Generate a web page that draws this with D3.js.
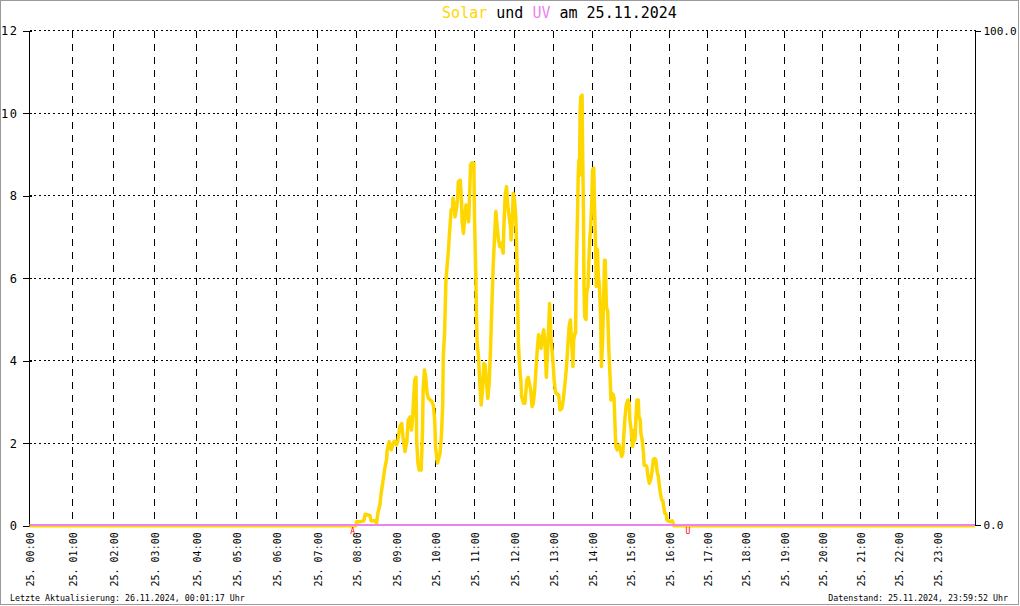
<!DOCTYPE html>
<html><head><meta charset="utf-8">
<script src="https://cdn.jsdelivr.net/npm/d3@7/dist/d3.min.js"></script>
<style>
body{margin:0;background:#fff}
svg{display:block}
text{font-family:"DejaVu Sans Mono",monospace;white-space:pre}
</style>
</head><body>
<svg id="c" width="1020" height="606"></svg>
<script>
// ---------- data ----------
const chartTitle = ["Solar", " und ", "UV", " am 25.11.2024"];
const footerLeft = "Letzte Aktualisierung: 26.11.2024, 00:01:17 Uhr";
const footerRight = "Datenstand: 25.11.2024, 23:59:52 Uhr";
const xTickHours = d3.range(0, 24);
const xTickLabels = ["25. 00:00","25. 01:00","25. 02:00","25. 03:00","25. 04:00","25. 05:00","25. 06:00","25. 07:00","25. 08:00","25. 09:00","25. 10:00","25. 11:00","25. 12:00","25. 13:00","25. 14:00","25. 15:00","25. 16:00","25. 17:00","25. 18:00","25. 19:00","25. 20:00","25. 21:00","25. 22:00","25. 23:00"];
const yLeftTicks = [0, 2, 4, 6, 8, 10, 12];
const yRightTicks = [0, 100];
const yRightLabels = ["0.0", "100.0"];
const markerLabels = ["A", "U"];
const markerTimes = ["7:54", "16:29"];

const solarTimes = ["0:00","7:59","8:00","8:05","8:11","8:13","8:20","8:22","8:29","8:30","8:32","8:35","8:37","8:40","8:42","8:45","8:46","8:49","8:52","8:55","8:57","9:00","9:02","9:05","9:08","9:10","9:13","9:16","9:18","9:21","9:23","9:25","9:26","9:28","9:30","9:31","9:33","9:35","9:38","9:40","9:41","9:43","9:45","9:47","9:49","9:52","9:55","9:57","9:59","10:00","10:03","10:05","10:07","10:09","10:11","10:12","10:14","10:16","10:18","10:20","10:21","10:23","10:24","10:26","10:27","10:29","10:30","10:32","10:34","10:35","10:38","10:40","10:41","10:43","10:45","10:47","10:49","10:51","10:52","10:54","10:56","10:59","11:00","11:02","11:03","11:04","11:06","11:08","11:10","11:12","11:14","11:16","11:18","11:20","11:22","11:24","11:26","11:28","11:30","11:32","11:34","11:36","11:38","11:40","11:43","11:44","11:46","11:48","11:50","11:52","11:54","11:55","11:57","11:58","12:00","12:02","12:04","12:06","12:08","12:10","12:11","12:14","12:16","12:19","12:21","12:23","12:25","12:27","12:29","12:31","12:33","12:35","12:37","12:39","12:41","12:43","12:45","12:47","12:49","12:51","12:52","12:54","12:56","12:59","13:01","13:03","13:05","13:08","13:10","13:13","13:15","13:18","13:20","13:22","13:24","13:26","13:28","13:30","13:31","13:33","13:34","13:35","13:37","13:38","13:39","13:40","13:41","13:42","13:44","13:45","13:46","13:47","13:48","13:50","13:51","13:53","13:54","13:56","13:57","13:59","14:00","14:02","14:03","14:05","14:06","14:08","14:09","14:11","14:13","14:14","14:16","14:17","14:19","14:20","14:22","14:24","14:25","14:26","14:28","14:29","14:32","14:34","14:36","14:37","14:39","14:42","14:44","14:46","14:48","14:49","14:51","14:53","14:54","14:56","14:58","14:59","15:01","15:03","15:04","15:06","15:07","15:09","15:10","15:12","15:13","15:15","15:16","15:18","15:20","15:21","15:23","15:25","15:27","15:29","15:30","15:32","15:34","15:35","15:37","15:39","15:41","15:43","15:44","15:46","15:48","15:50","15:51","15:53","15:55","15:56","15:59","16:01","16:04","16:06","16:07","23:59"];
const solarValues = [0,0,0.1,0.1,0.12,0.28,0.25,0.12,0.12,0.06,0.3,0.5,0.79,1.11,1.35,1.6,1.83,2.04,1.84,2.0,2.05,1.96,2.05,2.4,2.48,2.16,1.8,2.05,2.56,2.64,2.32,2.64,2.97,3.53,3.6,2.08,1.52,1.35,1.35,2.3,3.29,3.78,3.6,3.21,3.1,3.05,3.0,2.9,2.48,1.92,1.52,1.64,1.76,2.16,2.89,4.1,4.7,5.92,6.32,6.69,6.97,7.41,7.66,7.66,7.94,7.8,7.49,7.66,7.9,8.34,8.38,7.9,7.37,7.09,7.49,7.78,7.5,7.37,7.8,8.75,8.8,8.79,7.49,6.04,5.07,4.42,4.1,3.45,2.93,3.29,3.94,3.9,3.45,3.09,3.45,4.26,5.31,6.28,6.97,7.62,7.25,6.93,6.77,6.85,6.61,7.2,8.02,8.22,7.74,7.5,7.25,6.93,7.49,8.06,7.9,7.49,6.28,4.42,3.86,3.45,3.13,2.97,2.97,3.53,3.6,3.45,3.29,2.89,2.97,3.29,3.78,4.26,4.63,4.55,4.3,4.6,4.75,4.42,3.6,4.26,4.63,5.39,4.6,4.02,3.53,3.25,3.2,3.17,2.81,2.85,3.05,3.5,3.86,4.34,4.83,4.99,4.42,3.86,4.5,4.67,4.67,6.16,7.58,8.46,8.87,8.5,10.08,10.4,10.44,8.87,7.74,5.72,5.07,5.0,5.64,5.8,6.28,7.01,7.17,7.9,8.63,8.67,7.9,6.69,5.8,6.69,6.12,5.8,4.99,3.86,4.5,5.15,6.44,6.44,5.31,5.2,4.67,4.18,3.53,3.05,3.2,3.1,2.24,1.92,1.84,1.95,1.84,1.68,1.76,2.08,2.56,2.89,2.97,3.05,2.97,2.56,2.32,1.92,2.0,2.32,2.08,2.81,3.05,3.05,2.65,2.56,2.24,2.08,1.76,1.47,1.47,1.44,1.19,1.03,1.08,1.19,1.43,1.6,1.63,1.6,1.31,1.19,1.03,0.79,0.63,0.6,0.46,0.3,0.28,0.14,0.11,0.1,0.12,0.06,0,0];

const uvTimes = ["0:00", "23:59"];
const uvValues = [0, 0];

// ---------- layout ----------
const W = 1020, H = 606;
const gridColumns = [29.5,72.5,113.5,154.5,196.5,236.5,276.5,317.5,356.5,396.5,435.5,474.5,514.5,553.5,592.5,630.5,669.5,707.5,745.5,784.5,822.5,860.5,898.5,937.5,975.5];
const plotTop = 30.8, plotBottom = 525.8, plotLeft = 29.5, plotRight = 975.5;

const parseT = s => { const [h, m] = s.split(":").map(Number); return h + m / 60; };
const x = d3.scaleLinear().domain(d3.range(0, 25)).range(gridColumns);
const y = d3.scaleLinear().domain([0, 12]).range([plotBottom, plotTop]);
const yUV = d3.scaleLinear().domain([0, 100]).range([plotBottom - 1, plotTop]);

const svg = d3.select("#c");
svg.append("rect").attr("width", W).attr("height", H).attr("fill", "#fff");
svg.append("rect").attr("x", 0.5).attr("y", 0.5).attr("width", 1018).attr("height", 604)
  .attr("fill", "none").attr("stroke", "#9a9a9a");

// title
const t = svg.append("text").attr("x", 559.5).attr("y", 18).attr("text-anchor", "middle")
  .attr("font-size", 15);
const titleColors = ["#FFD700", "#000", "#EE82EE", "#000"];
chartTitle.forEach((s, i) => t.append("tspan").attr("fill", titleColors[i]).text(s));

// horizontal dotted grid
const hGrid = svg.append("g").attr("shape-rendering", "crispEdges");
hGrid.selectAll("line").data(yLeftTicks.filter(v => v > 0)).join("line")
  .attr("x1", plotLeft).attr("x2", plotRight)
  .attr("y1", d => Math.floor(y(d)) + 0.5).attr("y2", d => Math.floor(y(d)) + 0.5)
  .attr("stroke", "#000").attr("stroke-dasharray", "2,2.7");

// vertical dashed grid
const vGrid = svg.append("g").attr("shape-rendering", "crispEdges");
vGrid.selectAll("line").data(xTickHours.filter(h => h > 0)).join("line")
  .attr("x1", d => x(d)).attr("x2", d => x(d))
  .attr("y1", plotTop).attr("y2", plotBottom)
  .attr("stroke", "#000").attr("stroke-dasharray", "7,6");

// left axis
const yAxisL = d3.axisLeft(y).tickValues(yLeftTicks).tickFormat(d3.format("2d")).tickSize(7).tickPadding(3);
const gL = svg.append("g").attr("transform", "translate(" + plotLeft + ",0)").call(yAxisL);
gL.select(".domain").remove();
gL.selectAll(".tick line").attr("x2", -7).attr("x1", 2).attr("shape-rendering", "crispEdges");
gL.selectAll(".tick text").attr("font-family", "DejaVu Sans Mono").attr("font-size", 12)
  .attr("letter-spacing", 1.5).attr("text-anchor", "start").attr("x", -28.5).attr("fill", "#000");
svg.append("line").attr("x1", plotLeft).attr("x2", plotLeft).attr("y1", plotTop).attr("y2", plotBottom)
  .attr("stroke", "#000").attr("shape-rendering", "crispEdges");

// right axis
const yAxisR = d3.axisRight(yUV).tickValues(yRightTicks).tickFormat((d, i) => yRightLabels[i]).tickSize(5).tickPadding(3);
const gR = svg.append("g").attr("transform", "translate(" + plotRight + ",0)").call(yAxisR);
gR.select(".domain").remove();
gR.selectAll(".tick line").attr("shape-rendering", "crispEdges");
gR.selectAll(".tick text").attr("font-family", "DejaVu Sans Mono").attr("font-size", 11)
  .attr("fill", "#000");
svg.append("line").attr("x1", plotRight).attr("x2", plotRight).attr("y1", plotTop).attr("y2", plotBottom)
  .attr("stroke", "#000").attr("shape-rendering", "crispEdges");

// x labels (rotated)
const xAxis = d3.axisBottom(x).tickValues(xTickHours).tickFormat((d, i) => xTickLabels[i]).tickSize(0);
const gX = svg.append("g").attr("transform", "translate(0," + plotBottom + ")").call(xAxis);
gX.select(".domain").remove();
gX.selectAll(".tick text").attr("font-family", "DejaVu Sans Mono").attr("font-size", 10).attr("fill", "#000")
  .attr("text-anchor", "end").attr("transform", "rotate(-90)")
  .attr("x", -6.5).attr("y", 0).attr("dy", "0.35em");

// solar line
const solar = solarTimes.map((s, i) => ({ t: parseT(s), v: solarValues[i] }));
const line = d3.line().x(d => x(d.t)).y(d => y(d.v));
svg.append("path").datum(solar).attr("d", line).attr("fill", "none")
  .attr("stroke", "#FFD700").attr("stroke-width", 3.5).attr("stroke-linejoin", "round");

// UV line
const uv = uvTimes.map((s, i) => ({ t: parseT(s), v: uvValues[i] }));
const lineUV = d3.line().x(d => x(d.t)).y(d => yUV(d.v));
svg.append("path").datum(uv).attr("d", lineUV).attr("fill", "none")
  .attr("stroke", "#EE82EE").attr("stroke-width", 2).attr("shape-rendering", "crispEdges");

// sunrise / sunset markers
svg.selectAll("text.mk").data(markerLabels).join("text").attr("class", "mk")
  .attr("x", (d, i) => x(parseT(markerTimes[i]))).attr("y", 534)
  .attr("text-anchor", "middle").attr("font-size", 8).attr("fill", "#f00").text(d => d);

// footers
svg.append("text").attr("x", 10).attr("y", 601).attr("font-size", 8.3).attr("fill", "#000").text(footerLeft);
svg.append("text").attr("x", 1008).attr("y", 601).attr("text-anchor", "end").attr("font-size", 8.3).attr("fill", "#000").text(footerRight);
</script>
</body></html>
